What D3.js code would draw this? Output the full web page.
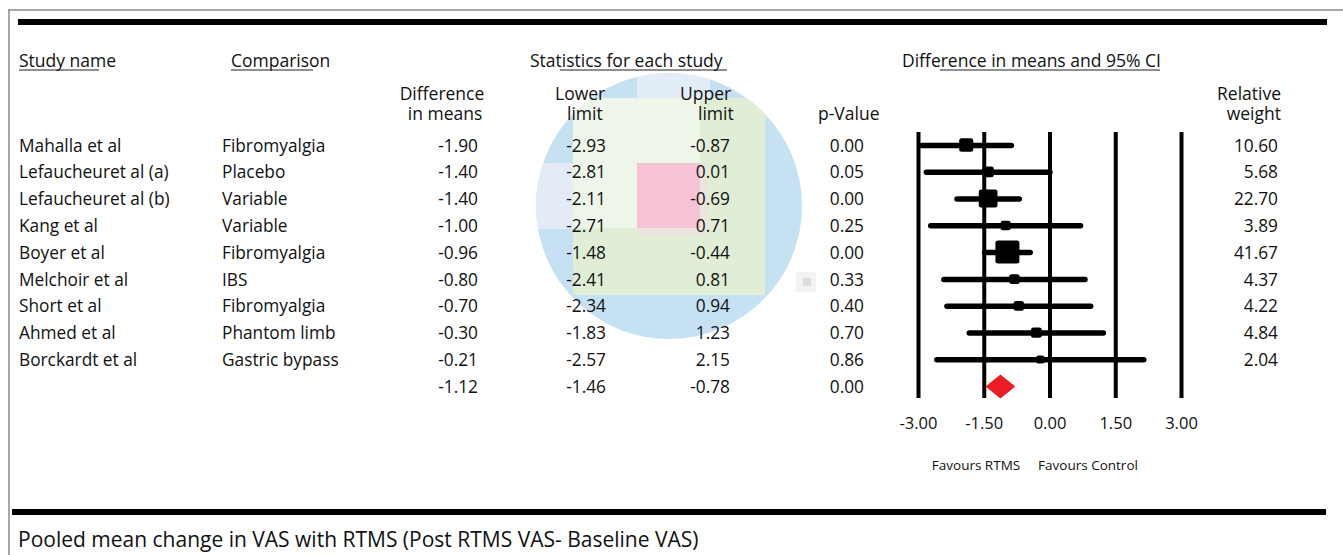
<!DOCTYPE html>
<html>
<head>
<meta charset="utf-8">
<script src="https://cdn.jsdelivr.net/npm/d3@7"></script>
<style>
    body { margin: 0; background: #fff; }
    svg text { font-family: "Open Sans", "Noto Sans", sans-serif; fill: #111; }
</style>
</head>
<body>
<svg id="chart" width="1343" height="555"></svg>
<script>
// values
const STUDIES = ["Mahalla et al", "Lefaucheuret al (a)", "Lefaucheuret al (b)", "Kang et al", "Boyer et al",
    "Melchoir et al", "Short et al", "Ahmed et al", "Borckardt et al"];
const COMPARISONS = ["Fibromyalgia", "Placebo", "Variable", "Variable", "Fibromyalgia", "IBS",
    "Fibromyalgia", "Phantom limb", "Gastric bypass"];
const DIFF_MEANS = [-1.90, -1.40, -1.40, -1.00, -0.96, -0.80, -0.70, -0.30, -0.21];
const LOWER = [-2.93, -2.81, -2.11, -2.71, -1.48, -2.41, -2.34, -1.83, -2.57];
const UPPER = [-0.87, 0.01, -0.69, 0.71, -0.44, 0.81, 0.94, 1.23, 2.15];
const P_VALUES = [0.00, 0.05, 0.00, 0.25, 0.00, 0.33, 0.40, 0.70, 0.86];
const WEIGHTS = [10.60, 5.68, 22.70, 3.89, 41.67, 4.37, 4.22, 4.84, 2.04];
const POOLED = { diff: -1.12, lower: -1.46, upper: -0.78, p: 0.00 };
const X_TICKS = [-3.00, -1.50, 0.00, 1.50, 3.00];

const svg = d3.select("#chart");
const fmt = (v) => v.toFixed(2);
const ROW_FONT = 17.3;
const HEAD_FONT = 17.5;

// rows: 9 studies + pooled line
const rowKeys = d3.range(STUDIES.length + 1);
const yScale = d3.scaleBand().domain(rowKeys).range([132, 400]);
const rowY = (i) => yScale(i) + yScale.bandwidth() / 2;

const xScale = d3.scaleLinear().domain([-3, 3]).range([918, 1181]);
const sizeScale = d3.scaleSqrt().domain([0, d3.max(WEIGHTS)]).range([4, 24]);

// frame
svg.append("line").attr("x1", 8).attr("x2", 1343).attr("y1", 10).attr("y2", 10)
    .attr("stroke", "#8a8a8a").attr("stroke-width", 1.5);
svg.append("line").attr("x1", 9).attr("x2", 9).attr("y1", 10).attr("y2", 555)
    .attr("stroke", "#8a8a8a").attr("stroke-width", 1.5);
svg.append("line").attr("x1", 18).attr("x2", 1327).attr("y1", 22).attr("y2", 22)
    .attr("stroke", "#000").attr("stroke-width", 6);
svg.append("line").attr("x1", 12).attr("x2", 1326).attr("y1", 512).attr("y2", 512)
    .attr("stroke", "#000").attr("stroke-width", 6);

// the pixelated colour smudge over the statistics columns
svg.append("clipPath").attr("id", "smudge-clip")
    .append("circle").attr("cx", 669).attr("cy", 206).attr("r", 133);
const smudge = svg.append("g").attr("class", "smudge").attr("clip-path", "url(#smudge-clip)");
smudge.append("rect").attr("x", 530).attr("y", 70).attr("width", 280).attr("height", 275).attr("fill", "#c6e1f1");
smudge.append("rect").attr("x", 530).attr("y", 163).attr("width", 43).attr("height", 66).attr("fill", "#e3ecf6");
smudge.append("rect").attr("x", 637).attr("y", 70).attr("width", 73).attr("height", 29).attr("fill", "#e3edf7");
smudge.append("rect").attr("x", 573).attr("y", 98).attr("width", 192).attr("height", 197).attr("fill", "#e0eed5");
smudge.append("rect").attr("x", 573).attr("y", 98).attr("width", 127).attr("height", 65).attr("fill", "#eef5e9");
smudge.append("rect").attr("x", 573).attr("y", 163).attr("width", 64).attr("height", 65).attr("fill", "#eef5e9");
smudge.append("rect").attr("x", 637).attr("y", 163).attr("width", 71).attr("height", 73).attr("fill", "#ebe4dc");
smudge.append("rect").attr("x", 637).attr("y", 163).attr("width", 63).attr("height", 65).attr("fill", "#f6c2d5");
svg.append("rect").attr("x", 796).attr("y", 272).attr("width", 20).attr("height", 20).attr("fill", "#f3f3f3");
svg.append("rect").attr("x", 803).attr("y", 278).attr("width", 8).attr("height", 8).attr("fill", "#dcdcdc");

// headers (two-line ones as tspans in one text)
const headers = [
    { t: ["Study name"], x: 19, y: 67, a: "start" },
    { t: ["Comparison"], x: 231, y: 67, a: "start" },
    { t: ["Statistics for each study"], x: 530, y: 67, a: "start" },
    { t: ["Difference in means and 95% CI"], x: 902, y: 67, a: "start" },
    { t: ["Difference", "in means"], x: [442, 445], y: 100, a: "middle" },
    { t: ["Lower", "limit"], x: [555, 567], y: 100, a: "start" },
    { t: ["Upper", "limit"], x: [680, 698], y: 100, a: "start" },
    { t: ["p-Value"], x: 818, y: 120, a: "start" },
    { t: ["Relative", "weight"], x: [1281, 1281], y: 100, a: "end" },
];
const headText = svg.append("g").selectAll("text").data(headers).enter().append("text")
    .attr("y", (d) => d.y).attr("text-anchor", (d) => d.a).attr("font-size", HEAD_FONT);
headText.selectAll("tspan").data((d) => d.t.map((s, k) => ({ s, k, x: Array.isArray(d.x) ? d.x[k] : d.x })))
    .enter().append("tspan")
    .attr("x", (d) => d.x).attr("dy", (d) => (d.k === 0 ? 0 : 20)).text((d) => d.s);

const underlines = [[19, 99], [231, 313], [560, 727], [940, 1160]];
svg.append("g").selectAll("line").data(underlines).enter().append("line")
    .attr("x1", (d) => d[0]).attr("x2", (d) => d[1]).attr("y1", 70).attr("y2", 70)
    .attr("stroke", "#222").attr("stroke-width", 1.2);

// table columns
const columns = [
    { vals: STUDIES, x: 19, a: "start" },
    { vals: COMPARISONS, x: 222, a: "start" },
    { vals: DIFF_MEANS.map(fmt).concat(fmt(POOLED.diff)), x: 478, a: "end" },
    { vals: LOWER.map(fmt).concat(fmt(POOLED.lower)), x: 606, a: "end" },
    { vals: UPPER.map(fmt).concat(fmt(POOLED.upper)), x: 730, a: "end" },
    { vals: P_VALUES.map(fmt).concat(fmt(POOLED.p)), x: 864, a: "end" },
    { vals: WEIGHTS.map(fmt), x: 1278, a: "end" },
];
columns.forEach((col) => {
    svg.append("g").selectAll("text").data(col.vals).enter().append("text")
        .attr("x", col.x).attr("y", (d, i) => rowY(i)).attr("dy", "0.36em")
        .attr("text-anchor", col.a).attr("font-size", ROW_FONT).text((d) => d);
});

// forest plot axis: grid lines are the ticks
const xAxis = d3.axisBottom(xScale).tickValues(X_TICKS).tickFormat(fmt)
    .tickSize(-(398 - 132)).tickPadding(19);
const axisG = svg.append("g").attr("transform", "translate(0,398)").call(xAxis);
axisG.select(".domain").remove();
axisG.selectAll(".tick line").attr("stroke", "#000").attr("stroke-width", 4);
axisG.selectAll(".tick text").attr("font-size", 16.5).attr("font-family", "Open Sans").attr("fill", "#111");

// confidence intervals
const studyIdx = d3.range(STUDIES.length);
const plot = svg.append("g");
plot.selectAll("line.ci").data(studyIdx).enter().append("line").attr("class", "ci")
    .attr("x1", (i) => xScale(LOWER[i])).attr("x2", (i) => xScale(UPPER[i]))
    .attr("y1", (i) => rowY(i)).attr("y2", (i) => rowY(i))
    .attr("stroke", "#000").attr("stroke-width", 5.5).attr("stroke-linecap", "round");
plot.selectAll("rect.est").data(studyIdx).enter().append("rect").attr("class", "est")
    .attr("x", (i) => xScale(DIFF_MEANS[i]) - sizeScale(WEIGHTS[i]) / 2)
    .attr("y", (i) => rowY(i) - sizeScale(WEIGHTS[i]) / 2)
    .attr("width", (i) => sizeScale(WEIGHTS[i]))
    .attr("height", (i) => sizeScale(WEIGHTS[i]) * 0.95)
    .attr("rx", 2.5).attr("fill", "#000");

// pooled diamond
const py = rowY(STUDIES.length);
plot.append("path")
    .attr("d", `M${xScale(POOLED.lower)},${py} L${xScale(POOLED.diff)},${py - 12} L${xScale(POOLED.upper)},${py} L${xScale(POOLED.diff)},${py + 12} Z`)
    .attr("fill", "#ec1c24");

svg.append("text").attr("x", 976).attr("y", 470).attr("text-anchor", "middle")
    .attr("font-size", 13.5).text("Favours RTMS");
svg.append("text").attr("x", 1088).attr("y", 470).attr("text-anchor", "middle")
    .attr("font-size", 13.5).text("Favours Control");

svg.append("text").attr("x", 18).attr("y", 547).attr("font-size", 21)
    .text("Pooled mean change in VAS with RTMS (Post RTMS VAS- Baseline VAS)");
</script>
</body>
</html>
